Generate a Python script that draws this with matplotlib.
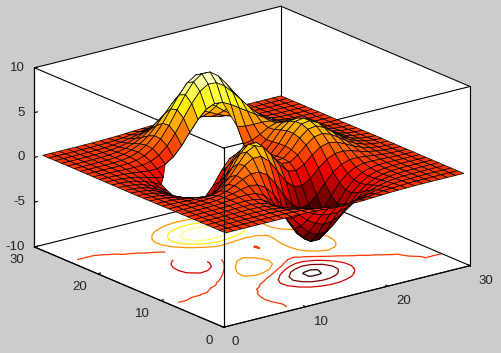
import numpy as np
import matplotlib
matplotlib.use("Agg")
import matplotlib.pyplot as plt
from mpl_toolkits.mplot3d import proj3d

# surface heights, one list per row (row 1 = front edge)
z_rows = [
    [.001,.001,.001,.001,.001,.001,.001,.001,-.001,-.01,-.04,-.08,-.13,-.19,-.23,-.25,-.25,-.22,-.18,-.13,-.08,-.05,-.03,-.01,-.001,-.001,-.001,-.001,-.001,-.001],
    [.001,.001,.001,.001,.001,.01,.01,.01,-.004,-.04,-.1,-.19,-.31,-.43,-.53,-.58,-.57,-.5,-.4,-.29,-.19,-.11,-.06,-.03,-.01,-.001,-.001,-.001,-.001,-.001],
    [.001,.001,.001,.01,.01,.01,.02,.01,-.02,-.09,-.22,-.41,-.65,-.9,-1.1,-1.19,-1.17,-1.03,-.82,-.59,-.38,-.23,-.12,-.06,-.03,-.01,-.001,-.001,-.001,-.001],
    [.001,.001,.01,.01,.01,.02,.03,.01,-.05,-.18,-.42,-.8,-1.24,-1.71,-2.09,-2.27,-2.22,-1.95,-1.56,-1.11,-.71,-.42,-.22,-.1,-.04,-.02,-.01,-.001,-.001,-.001],
    [.001,.001,.01,.01,.02,.04,.05,.03,-.06,-.26,-.64,-1.23,-1.94,-2.72,-3.35,-3.65,-3.58,-3.14,-2.51,-1.78,-1.14,-.67,-.34,-.15,-.06,-.02,-.01,.001,.001,.001],
    [.001,.001,.01,.01,.03,.06,.08,.07,-.03,-.28,-.79,-1.6,-2.6,-3.71,-4.64,-5.1,-5.04,-4.44,-3.55,-2.51,-1.59,-.92,-.45,-.2,-.07,-.02,.001,.001,.001,.001],
    [.001,.001,.01,.02,.04,.08,.12,.15,.09,-.14,-.69,-1.64,-2.86,-4.27,-5.51,-6.19,-6.19,-5.49,-4.38,-3.08,-1.91,-1.07,-.5,-.19,-.06,-.01,.01,.01,.001,.001],
    [.001,.001,.01,.01,.04,.09,.18,.28,.33,.24,-.17,-1.03,-2.28,-3.84,-5.31,-6.21,-6.38,-5.73,-4.57,-3.15,-1.88,-.97,-.39,-.1,.01,.04,.03,.02,.01,.001],
    [-.001,-.001,-.001,-.001,.01,.07,.18,.37,.59,.76,.69,.16,-.85,-2.33,-3.9,-5.0,-5.41,-4.96,-3.92,-2.58,-1.37,-.55,-.06,.13,.15,.12,.07,.03,.01,.01],
    [-.001,-.01,-.02,-.04,-.05,-.01,.09,.35,.74,1.22,1.6,1.59,1.02,-.17,-1.68,-2.92,-3.6,-3.43,-2.63,-1.5,-.49,.15,.44,.47,.36,.23,.13,.06,.02,.01],
    [-.01,-.02,-.05,-.11,-.17,-.2,-.16,.09,.6,1.36,2.22,2.81,2.8,2.03,.69,-.63,-1.51,-1.6,-1.04,-.13,.66,1.06,1.11,.92,.63,.38,.2,.09,.04,.01],
    [-.02,-.04,-.09,-.2,-.34,-.48,-.58,-.45,.04,.93,2.13,3.21,3.69,3.33,2.21,.92,-.05,-.24,.24,1.07,1.73,1.97,1.8,1.39,.92,.55,.29,.13,.05,.02],
    [-.02,-.06,-.14,-.3,-.53,-.81,-1.1,-1.16,-.82,.05,1.38,2.75,3.57,3.51,2.59,1.41,.5,.39,.96,1.86,2.54,2.7,2.38,1.81,1.19,.7,.37,.16,.07,.02],
    [-.03,-.08,-.18,-.39,-.71,-1.14,-1.62,-1.92,-1.8,-1.07,.25,1.75,2.77,2.95,2.24,1.21,.47,.54,1.29,2.35,3.1,3.25,2.84,2.14,1.4,.82,.43,.19,.08,.03],
    [-.04,-.09,-.21,-.45,-.84,-1.37,-2.01,-2.5,-2.59,-2.03,-.8,.7,1.82,2.16,1.64,.79,.23,.48,1.39,2.57,3.39,3.53,3.08,2.31,1.51,.89,.46,.2,.08,.03],
    [-.04,-.09,-.21,-.47,-.88,-1.45,-2.16,-2.76,-2.99,-2.59,-1.5,-.08,1.04,1.47,1.11,.43,.04,.41,1.37,2.57,3.38,3.52,3.06,2.3,1.5,.88,.46,.2,.08,.03],
    [-.04,-.09,-.2,-.44,-.83,-1.38,-2.07,-2.7,-2.99,-2.71,-1.8,-.55,.48,.94,.71,.2,-.06,.34,1.26,2.36,3.1,3.22,2.8,2.1,1.37,.8,.42,.18,.08,.03],
    [-.03,-.07,-.17,-.38,-.71,-1.18,-1.78,-2.33,-2.61,-2.4,-1.64,-.57,.34,.79,.68,.31,.13,.46,1.21,2.1,2.68,2.76,2.38,1.78,1.16,.68,.35,.15,.06,.02],
    [-.02,-.06,-.13,-.29,-.55,-.92,-1.38,-1.78,-1.95,-1.72,-1.01,-.04,.83,1.34,1.35,1.09,.9,1.05,1.49,2.03,2.34,2.3,1.94,1.43,.92,.53,.28,.12,.05,.02],
    [-.02,-.04,-.09,-.2,-.38,-.61,-.89,-1.09,-1.07,-.69,.11,1.17,2.14,2.81,3.0,2.84,2.54,2.35,2.31,2.32,2.24,1.98,1.56,1.1,.69,.4,.2,.09,.04,.01],
    [-.01,-.03,-.06,-.12,-.21,-.33,-.43,-.42,-.15,.45,1.46,2.73,3.92,4.85,5.25,5.15,4.69,4.09,3.5,2.92,2.37,1.84,1.31,.87,.52,.29,.14,.06,.02,.01],
    [-.01,-.02,-.03,-.06,-.1,-.12,-.09,.1,.56,1.35,2.55,4.01,5.4,6.54,7.12,7.06,6.46,5.52,4.49,3.45,2.52,1.78,1.16,.71,.4,.21,.1,.04,.02,.001],
    [-.001,-.01,-.01,-.02,-.02,.02,.14,.43,.99,1.86,3.13,4.65,6.1,7.32,7.98,7.95,7.28,6.17,4.91,3.62,2.51,1.66,1.0,.57,.3,.15,.07,.03,.01,.001],
    [-.001,-.001,-.001,-.001,.02,.08,.23,.54,1.09,1.91,3.07,4.45,5.77,6.91,7.53,7.51,6.89,5.81,4.58,3.32,2.23,1.42,.82,.45,.22,.11,.05,.02,.01,.001],
    [.001,.001,.001,.01,.03,.09,.22,.48,.93,1.59,2.51,3.6,4.64,5.54,6.04,6.03,5.53,4.66,3.66,2.62,1.74,1.09,.61,.32,.16,.07,.03,.01,.001,.001],
    [.001,.001,.001,.01,.03,.07,.17,.36,.68,1.14,1.78,2.54,3.28,3.9,4.26,4.25,3.9,3.28,2.57,1.83,1.2,.75,.41,.21,.1,.05,.02,.01,.001,.001],
    [.001,.001,.001,.01,.02,.05,.11,.23,.43,.72,1.11,1.58,2.03,2.41,2.63,2.63,2.41,2.03,1.59,1.13,.74,.45,.25,.13,.06,.03,.01,.001,.001,.001],
    [.001,.001,.001,.001,.01,.03,.06,.12,.23,.38,.59,.83,1.07,1.27,1.39,1.39,1.27,1.07,.83,.59,.39,.24,.13,.07,.03,.01,.01,.001,.001,.001],
    [.001,.001,.001,.001,.01,.01,.03,.06,.11,.19,.29,.4,.52,.62,.67,.67,.62,.52,.41,.29,.19,.11,.06,.03,.01,.01,.001,.001,.001,.001],
    [.001,.001,.001,.001,.001,.01,.01,.03,.05,.08,.13,.18,.23,.27,.3,.3,.27,.23,.18,.13,.08,.05,.03,.01,.01,.001,.001,.001,.001,.001],
]

# the missing patch of the surface: row -> first and last column
surface_hole = {17: (8, 14), 18: (8, 15), 19: (8, 16), 20: (9, 16)}
# the gap in the contours on the floor
contour_hole = {17: (11, 12), 18: (10, 12), 19: (9, 12), 20: (9, 11), 21: (10, 10)}

contour_levels = [-6, -4, -2, 0, 2, 4, 6, 8]
xy_ticks = [0, 10, 20, 30]
z_ticks = [-10, -5, 0, 5, 10]

bg = "#cccccc"


def punch(z, hole):
    out = z.copy()
    for row, (first, last) in hole.items():
        out[row - 1, first - 1:last] = np.nan
    return out


def tick_label(px, py, pz, text, ha):
    # tick labels sit a bit off the box edges, so place them by hand
    sx, sy, _ = proj3d.proj_transform(px, py, pz, ax.get_proj())
    ax.text2D(sx, sy, text, transform=ax.transData, ha=ha, va="center", fontsize=9.5,
              family="Liberation Sans", color="#222222")


z = np.array(z_rows, dtype=float)
index = np.arange(1, 31)
x, y = np.meshgrid(index, index)

norm = plt.Normalize(np.min(z), np.max(z))
z_surface = punch(z, surface_hole)
z_contour = punch(z, contour_hole)
colors = plt.cm.hot(norm(z))

fig = plt.figure(figsize=(5.01, 3.53), dpi=100, facecolor=bg)
side = 464.5
ax = fig.add_axes([(246 - side / 2) / 501, (180 - side / 2) / 353, side / 501, side / 353],
                  projection="3d", proj_type="ortho", computed_zorder=False)
ax.patch.set_visible(False)
ax.view_init(elev=19, azim=-127.5)
ax.set_box_aspect((1, 1, 0.61))
ax.set_xlim(0, 30, view_margin=0)
ax.set_ylim(0, 30, view_margin=0)
ax.set_zlim(-10, 10, view_margin=0)

# white walls, no grid
ax.grid(False)
for axis in [ax.xaxis, ax.yaxis, ax.zaxis]:
    axis.set_pane_color("white")
    axis.pane.set_edgecolor("white")
    axis.line.set_linewidth(0.8)
    axis._axinfo["tick"]["inward_factor"] = 0.0
    axis._axinfo["tick"]["outward_factor"] = 0.15

ax.set_xticks(xy_ticks)
ax.set_yticks(xy_ticks)
ax.set_zticks(z_ticks)
ax.set_xticklabels([])
ax.set_yticklabels([])
ax.set_zticklabels([])

for t in xy_ticks:
    tick_label(t, -1.3, -11.3, str(t), "left")
    tick_label(-1.3, t, -11.2, str(t), "right")
for t in z_ticks:
    tick_label(0, 31.5, t - 0.45, str(t), "right")

ax.contour(x, y, z_contour, levels=contour_levels, zdir="z", offset=-10,
           cmap="hot", norm=norm, linewidths=0.9, zorder=1)

# box edges, under the surface
for a in [0, 30]:
    for b in [0, 30]:
        ax.plot([a, a], [b, b], [-10, 10], color="k", lw=0.8, zorder=2)
    for c in [-10, 10]:
        ax.plot([a, a], [0, 30], [c, c], color="k", lw=0.8, zorder=2)
        ax.plot([0, 30], [a, a], [c, c], color="k", lw=0.8, zorder=2)

ax.plot_surface(x, y, z_surface, rstride=1, cstride=1, facecolors=colors,
                edgecolor="k", linewidth=0.5, shade=False, zorder=3)

# the front upright shows over the surface
ax.plot([0, 0], [0, 0], [-10, 10], color="k", lw=0.8, zorder=4)

fig.savefig("out.png", dpi=100, facecolor=bg)
